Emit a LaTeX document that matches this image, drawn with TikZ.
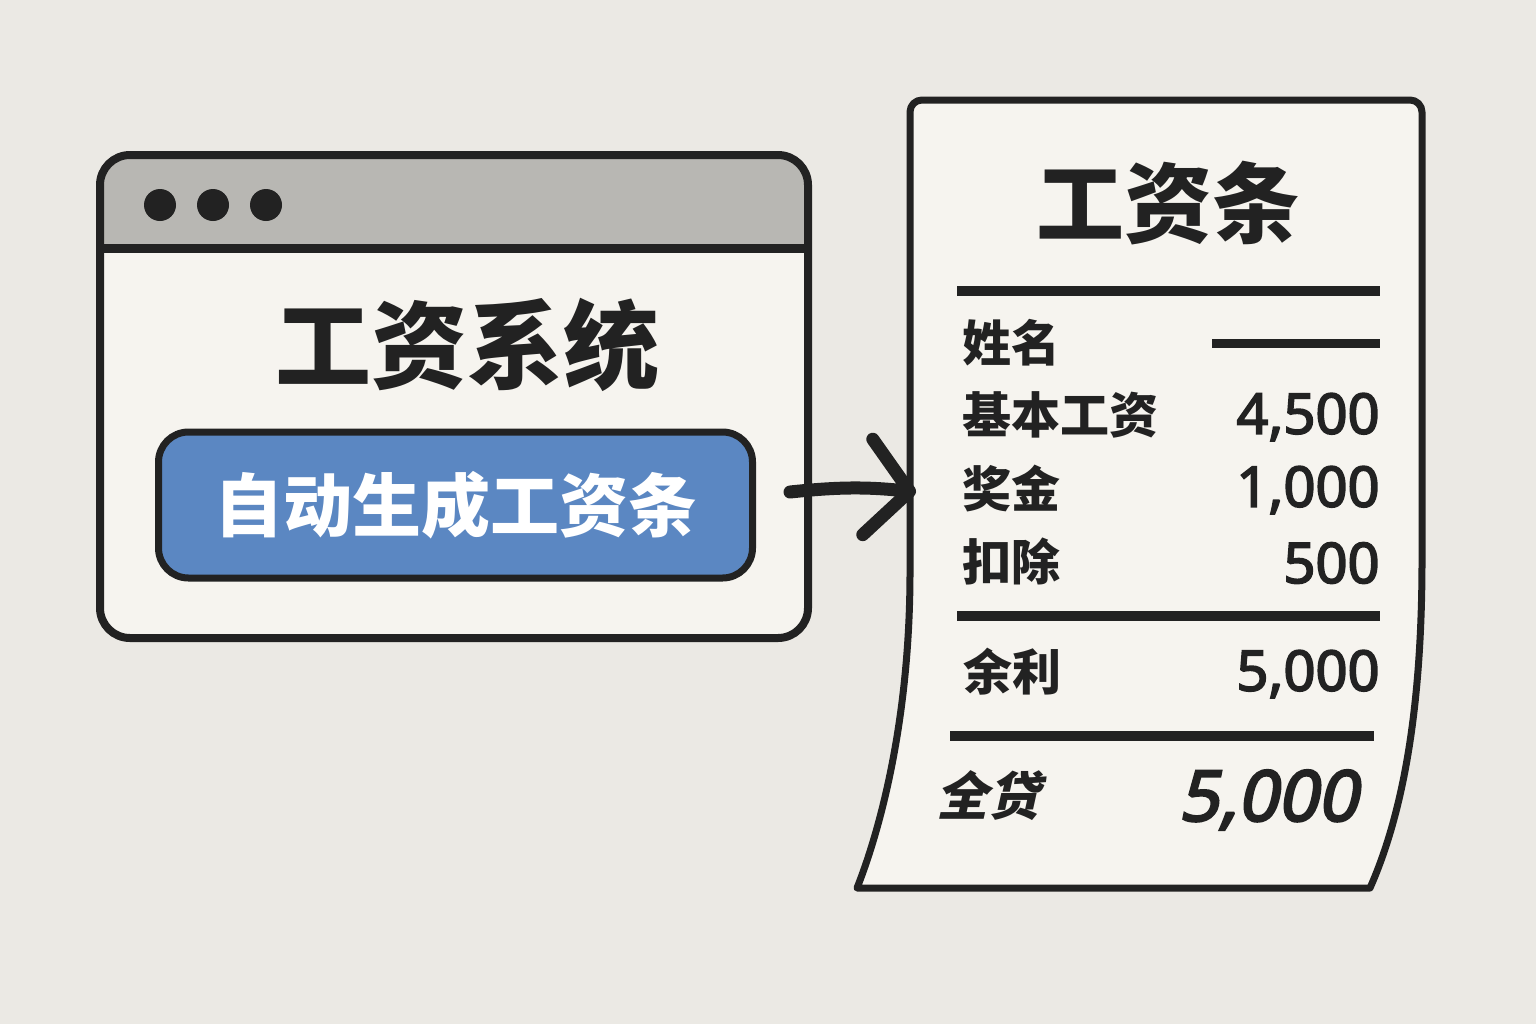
\documentclass[tikz,border=0pt]{standalone}
\usepackage{fontspec}
\setmainfont{Noto Sans}
\newfontfamily\cjk{Noto Sans CJK SC}
\newfontfamily\cjkslant{Noto Sans CJK SC}[FakeSlant=0.22]
\newfontfamily\numfont{Noto Sans}[FakeBold=3]
\newfontfamily\numslant{Noto Sans}[FakeBold=3.5, FakeSlant=0.2]
\usetikzlibrary{arrows.meta,positioning,calc}
\definecolor{bg}{HTML}{EBE9E4}
\definecolor{paper}{HTML}{F6F4EF}
\definecolor{bar}{HTML}{B8B7B3}
\definecolor{ink}{HTML}{222222}
\definecolor{btnblue}{HTML}{5B87C2}
\tikzset{
  frame/.style={draw=ink, line width=4pt, rounded corners=15pt},
  btnbox/.style={draw=ink, line width=3.5pt, rounded corners=15pt, fill=btnblue,
                 minimum width=297pt, minimum height=73pt, inner sep=0pt},
  rule/.style={draw=ink, line width=5pt},
  head/.style={font=\cjk\bfseries\fontsize{48}{50}\selectfont, text=ink, inner sep=0pt},
  lbl/.style={font=\cjk\bfseries\fontsize{24.5}{26}\selectfont, text=ink, inner sep=0pt, anchor=west},
  val/.style={font=\numfont\fontsize{28}{30}\selectfont, text=ink, inner sep=0pt, anchor=east},
  flow/.style={draw=ink, line width=6.5pt, line cap=round, line join=round,
               -{Straight Barb[length=21pt, width=48pt, line cap=round, line join=round]}},
}
\begin{document}
\begin{tikzpicture}[x=0.5pt,y=-0.5pt]
  \fill[bg] (0,0) rectangle (1536,1024);
  \useasboundingbox (0,0) rectangle (1536,1024);
  \fill[paper, rounded corners=15pt] (100,155) rectangle (808,638);
  \begin{scope}
    \clip[rounded corners=15pt] (100,155) rectangle (808,638);
    \fill[bar] (100,155) rectangle (808,248);
  \end{scope}
  \draw[ink, line width=4.5pt] (100,248) -- (808,248);
  \draw[frame] (100,155) rectangle (808,638);
  \foreach \x in {160,213,266}
    \fill[ink] (\x,205) circle (8pt);
  \node[head] (systitle) at (467,345) {工资系统};
  \node[btnbox] (btn) at (455.5,505) {};
  \node[head, text=white, font=\cjk\bfseries\fontsize{34.5}{36}\selectfont] (btntext) at (btn) {自动生成工资条};
  \filldraw[fill=paper, draw=ink, line width=3.5pt, line join=round]
    (910,560) .. controls (910,720) and (880,830) .. (857,888)
    -- (1370,888) .. controls (1400,820) and (1422,720) .. (1422,560)
    [rounded corners=6pt] -- (1422,100) -- (910,100) -- cycle;
  \node[head, font=\cjk\bfseries\fontsize{44}{46}\selectfont] (sliptitle) at (1168,203) {工资条};
  \draw[rule] (957,291) -- (1380,291);
  \node[lbl] (name) at (962,343) {姓名};
  \draw[rule, line width=4.5pt] (1212,343) -- (1380,343);
  \node[lbl] (base) at (962,415) {基本工资};
  \node[val] (baseval) at (1380,417) {4,500};
  \node[lbl] (bonus) at (962,488) {奖金};
  \node[val] (bonusval) at (1380,490) {1,000};
  \node[lbl] (deduct) at (962,561) {扣除};
  \node[val] (deductval) at (1380,563) {500};
  \draw[rule] (957,616) -- (1380,616);
  \node[lbl] (rest) at (963,672) {余利};
  \node[val] (restval) at (1380,674) {5,000};
  \draw[rule] (950,736) -- (1374,736);
  \node[lbl, font=\cjkslant\bfseries\fontsize{26}{28}\selectfont] (total) at (936,796) {全贷};
  \node[val, font=\numslant\fontsize{35}{37}\selectfont] (totalval) at (1358,800) {5,000};
  \coordinate (arrs) at (790,492);
  \coordinate (slip) at (916,492);
  \draw[flow] (arrs) to[bend left=6] (slip);
\end{tikzpicture}
\end{document}
